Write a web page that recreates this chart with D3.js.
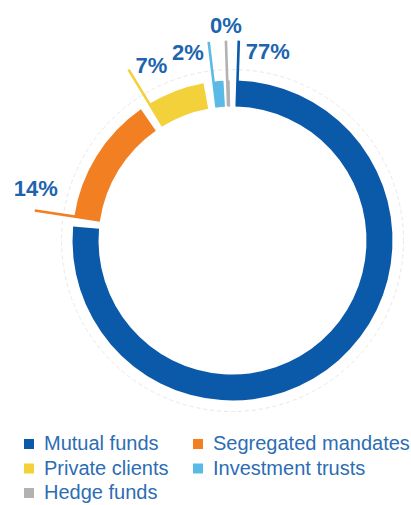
<!DOCTYPE html>
<html>
<head>
<meta charset="utf-8">
<script src="https://cdn.jsdelivr.net/npm/d3@7"></script>
<style>
  html, body { margin: 0; padding: 0; background: #ffffff; }
  svg { display: block; font-family: "Liberation Sans", Arial, sans-serif; }
</style>
</head>
<body>
<svg id="chart" width="411" height="505"></svg>
<script>
// ---- data ----
const categories = ["Mutual funds", "Segregated mandates", "Private clients", "Investment trusts", "Hedge funds"];
const shares = [76.9, 13.9, 6.8, 2.0, 0.4];
const colors = ["#0b59a9", "#f27f22", "#f3d13b", "#5bb9e5", "#b2b2b2"];

// ---- layout ----
const W = 411, H = 505;
const cx = 232.5, cy = 240.5;
const rOuter = 160, rInner = 134, rLeader = 200, rGuide = 171;
const pad = 1.8 * Math.PI / 180;       // half-gap on each side
const minArc = 0.9 * Math.PI / 180;    // min visible arc
// label placement relative to leader end: [dx, dy, anchor]
const labelPlace = [[7, 18, "start"], [-21, -14, "start"], [7, 3, "start"], [-5, 18, "end"], [0, -8, "middle"]];
const legendCols = [24, 193], legendRow0 = 450, legendRowH = 24.5;

const svg = d3.select("#chart");
const g = svg.append("g").attr("transform", `translate(${cx},${cy})`);

// faint dashed guide circle
g.append("circle").attr("r", rGuide).attr("fill", "none")
  .attr("stroke", "#e8e8e8").attr("stroke-width", 1).attr("stroke-dasharray", "4,3");

const pie = d3.pie().sort(null).value(d => d)(shares);
const arcs = pie.map((p, i) => {
  let s = p.startAngle + pad, e = p.endAngle - pad;
  if (e - s < minArc) { const m = (p.startAngle + p.endAngle) / 2 - pad * 0.4; s = m - minArc / 2; e = m + minArc / 2; }
  return { i, startAngle: s, endAngle: e, value: p.value };
});

const arc = d3.arc().innerRadius(rInner).outerRadius(rOuter);
g.selectAll("path.seg").data(arcs).enter().append("path")
  .attr("class", "seg").attr("d", arc).attr("fill", d => colors[d.i]);

// leader lines at each segment's start angle
const pt = (a, r) => [r * Math.sin(a), -r * Math.cos(a)];
g.selectAll("line.lead").data(arcs).enter().append("line")
  .attr("class", "lead")
  .attr("x1", d => pt(d.startAngle, rInner)[0]).attr("y1", d => pt(d.startAngle, rInner)[1])
  .attr("x2", d => pt(d.startAngle, rLeader)[0]).attr("y2", d => pt(d.startAngle, rLeader)[1])
  .attr("stroke", d => colors[d.i]).attr("stroke-width", 2.6);

// percentage labels
g.selectAll("text.pct").data(arcs).enter().append("text")
  .attr("class", "pct")
  .attr("x", d => pt(d.startAngle, rLeader)[0] + labelPlace[d.i][0])
  .attr("y", d => pt(d.startAngle, rLeader)[1] + labelPlace[d.i][1])
  .attr("text-anchor", d => labelPlace[d.i][2])
  .attr("font-size", 22).attr("font-weight", "bold").attr("fill", "#2064ae")
  .text(d => Math.round(d.value) + "%");

// legend
const lg = svg.append("g");
categories.forEach((c, i) => {
  const x = legendCols[i % 2], y = legendRow0 + Math.floor(i / 2) * legendRowH;
  lg.append("rect").attr("x", x).attr("y", y - 11).attr("width", 10).attr("height", 10).attr("fill", colors[i]);
  lg.append("text").attr("x", x + 20).attr("y", y).attr("font-size", 20)
    .attr("fill", "#2c6db4").text(c);
});
</script>
</body>
</html>
